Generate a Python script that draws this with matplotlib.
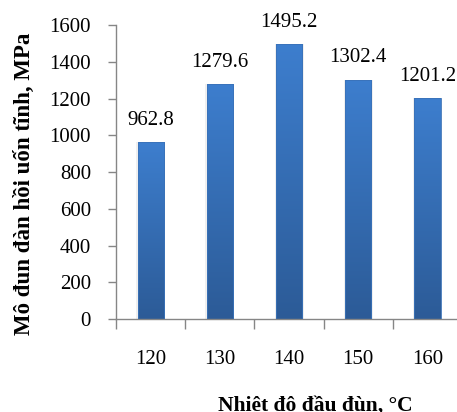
import matplotlib.pyplot as plt
import numpy as np
from matplotlib.colors import LinearSegmentedColormap

# nhiệt độ đầu đùn và mô đun đàn hồi uốn tĩnh
temps = ['120', '130', '140', '150', '160']
modulus = [962.8, 1279.6, 1495.2, 1302.4, 1201.2]
yticks = [0, 200, 400, 600, 800, 1000, 1200, 1400, 1600]

serif = 'Liberation Serif'
axis_gray = '#868686'

fig = plt.figure(figsize=(4.57, 4.12), dpi=100)
ax = fig.add_axes([0.254, 0.2257, 0.757, 0.7135])

x = np.arange(len(temps))
bar_w = 0.38
bars = ax.bar(x, modulus, width=bar_w, color='none', edgecolor='none', zorder=2)

# gradient fill: lighter on top, darker at the base
cmap = LinearSegmentedColormap.from_list('bluegrad', ['#2c5b97', '#3d7ece'])
grad = np.linspace(0, 1, 256).reshape(-1, 1)
for b in bars:
    x0, w, h = b.get_x(), b.get_width(), b.get_height()
    # soft shadow around each bar
    ax.bar(x0 + w / 2, h, width=w * 1.1, color='#efefef', zorder=1)
    im = ax.imshow(grad, cmap=cmap, origin='lower', aspect='auto',
                   extent=[x0, x0 + w, 0, h], zorder=2)
    im.set_clip_path(b)
    ax.add_patch(plt.Rectangle((x0, 0), w, h, fill=False,
                               edgecolor='#3a72b8', lw=0.6, zorder=3))

for xi, v in zip(x, modulus):
    ax.annotate(f'{v:.1f}', (xi, v), xytext=(0, 12.5), textcoords='offset points',
                ha='center', va='baseline', fontsize=15, family=serif)

ax.set_xlim(-0.5, len(temps) - 0.5)
ax.set_ylim(0, 1600)
ax.set_yticks(yticks)
ax.set_yticklabels([str(t) for t in yticks], family=serif, fontsize=15)

# category ticks sit between bars
ax.set_xticks(x)
ax.set_xticklabels(temps, family=serif, fontsize=15)
ax.set_xticks(np.arange(-0.5, len(temps), 1), minor=True)
ax.tick_params(axis='x', which='major', length=0, pad=22)
ax.tick_params(axis='x', which='minor', length=7, width=1, color=axis_gray, direction='out')
ax.tick_params(axis='y', length=6, width=1, color=axis_gray, direction='out', pad=12)

for s in ['top', 'right']:
    ax.spines[s].set_visible(False)
for s in ['left', 'bottom']:
    ax.spines[s].set_color(axis_gray)
    ax.spines[s].set_linewidth(1)

ax.set_ylabel('Mô đun đàn hồi uốn tĩnh, MPa', family=serif, fontsize=16.5,
              fontweight='bold')
ax.yaxis.set_label_coords(-0.235, 0.46)
fig.text(315 / 457, 1.5 / 412, 'Nhiệt độ đầu đùn, °C', family=serif, fontsize=15.5,
         fontweight='bold', ha='center', va='baseline')

fig.savefig('out.png', dpi=100)
